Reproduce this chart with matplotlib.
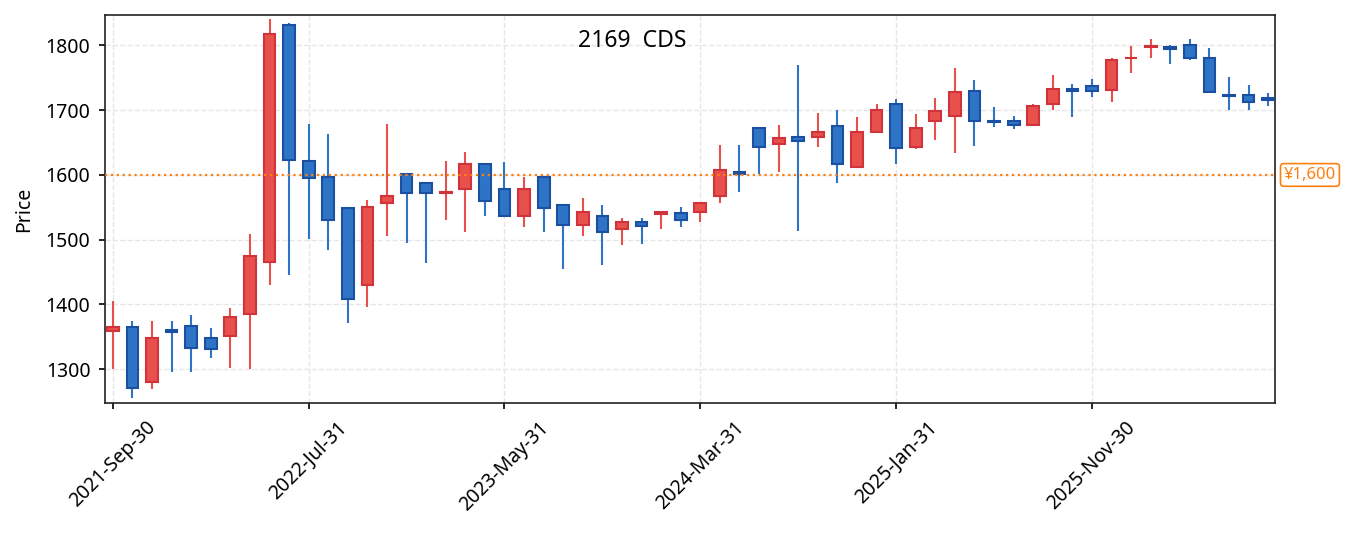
import numpy as np
import pandas as pd
import matplotlib
matplotlib.use("Agg")
import matplotlib.pyplot as plt
import matplotlib.transforms as mtransforms

plt.rcParams['font.family'] = ['Noto Sans', 'DejaVu Sans']

# monthly candles, 2021-09 .. 2026-08 (month ends)
dates = pd.date_range('2021-09-30', periods=60, freq='ME')

opens = [1359, 1365, 1280, 1361, 1367, 1348, 1351, 1385, 1465, 1832,
         1622, 1597, 1549, 1430, 1557, 1601, 1587, 1572, 1578, 1617,
         1579, 1537, 1597, 1554, 1523, 1537, 1516, 1528, 1539, 1541,
         1543, 1568, 1604, 1673, 1648, 1658, 1658, 1675, 1613, 1666,
         1710, 1643, 1683, 1691, 1730, 1683, 1684, 1677, 1709, 1732,
         1737, 1731, 1780, 1798, 1797, 1800, 1781, 1724, 1723, 1718]
closes = [1365, 1271, 1348, 1357, 1333, 1332, 1381, 1475, 1817, 1623,
          1595, 1530, 1408, 1551, 1568, 1572, 1572, 1574, 1617, 1560,
          1537, 1579, 1549, 1523, 1543, 1512, 1528, 1521, 1542, 1530,
          1556, 1607, 1601, 1643, 1657, 1653, 1667, 1617, 1666, 1701,
          1642, 1672, 1698, 1728, 1683, 1682, 1677, 1707, 1732, 1730,
          1730, 1778, 1781, 1799, 1795, 1780, 1728, 1722, 1713, 1715]
highs = [1405, 1374, 1374, 1374, 1383, 1363, 1394, 1509, 1841, 1834,
         1679, 1663, 1549, 1561, 1679, 1603, 1587, 1622, 1635, 1617,
         1620, 1597, 1597, 1554, 1564, 1553, 1533, 1533, 1542, 1550,
         1556, 1646, 1646, 1673, 1677, 1770, 1695, 1701, 1689, 1710,
         1717, 1694, 1719, 1765, 1747, 1705, 1691, 1709, 1755, 1741,
         1748, 1780, 1799, 1810, 1801, 1810, 1796, 1751, 1739, 1726]
lows = [1300, 1255, 1269, 1296, 1296, 1317, 1302, 1300, 1430, 1445,
        1501, 1484, 1372, 1396, 1506, 1495, 1464, 1530, 1512, 1536,
        1536, 1520, 1512, 1455, 1505, 1461, 1492, 1493, 1517, 1520,
        1528, 1556, 1573, 1601, 1605, 1514, 1643, 1587, 1613, 1664,
        1617, 1640, 1654, 1634, 1644, 1674, 1671, 1675, 1700, 1689,
        1720, 1712, 1758, 1781, 1772, 1777, 1726, 1700, 1700, 1706]

ref_price = 1600
title = "2169  CDS"

up_fill, up_edge = '#e8504c', '#d0343a'
dn_fill, dn_edge = '#2e74c6', '#1b4fa0'

fig = plt.figure(figsize=(13.55, 5.33), dpi=100)
ax = fig.add_axes([0.0775, 0.244, 0.8635, 0.728])

x = np.arange(len(dates))
o = np.array(opens, dtype=float)
c = np.array(closes, dtype=float)
up = c >= o
fills = np.where(up, up_fill, dn_fill)
edges = np.where(up, up_edge, dn_edge)

# wicks first, bodies on top
ax.vlines(x, lows, highs, colors=fills, linewidth=1.5, zorder=2)
bottoms = np.minimum(o, c)
heights = np.maximum(np.abs(c - o), 0.8)
ax.bar(x, heights, bottom=bottoms, width=0.6, color=fills,
       edgecolor=edges, linewidth=1.5, zorder=3)

ax.axhline(ref_price, color='#ff7f0e', linestyle=':', linewidth=1.6, zorder=4)
trans = mtransforms.blended_transform_factory(ax.transAxes, ax.transData)
ax.text(1.0075, ref_price, f"¥{ref_price:,}", transform=trans, ha='left',
        va='center', color='#ff7f0e', fontsize=12,
        bbox=dict(boxstyle='round,pad=0.2', fc='white', ec='#ff7f0e', lw=1.2))

ax.text(0.451, 0.933, title, transform=ax.transAxes, ha='center',
        va='center', fontsize=16.5)

ax.set_xlim(-0.4, 59.35)
ax.set_ylim(1248, 1847)
ax.set_yticks([1300, 1400, 1500, 1600, 1700, 1800])
ticks = x[::10]
ax.set_xticks(ticks)
ax.set_xticklabels([dates[i].strftime('%Y-%b-%d') for i in ticks],
                   rotation=45, ha='center')
ax.tick_params(labelsize=14, length=4.5, width=1.2, pad=6)
ax.set_ylabel('Price', fontsize=14, labelpad=8)
ax.grid(True, linestyle='--', color='#e6e6e6', linewidth=1)
ax.set_axisbelow(True)
for s in ax.spines.values():
    s.set_linewidth(1.2)
    s.set_color('#222222')

fig.savefig('out.png', dpi=100)
